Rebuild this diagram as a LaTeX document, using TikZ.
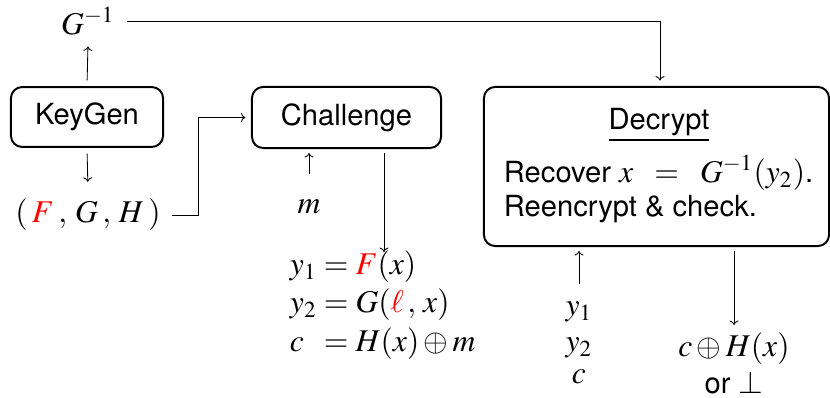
\documentclass[tikz,border=0pt]{standalone}
\usepackage{mathptmx}
\usepackage[no-math]{fontspec}
\setmainfont{TeX Gyre Heros}
\DeclareMathSizes{10.4}{11.3}{8.2}{6.2}
\usetikzlibrary{arrows.meta}
\tikzset{
  box/.style={draw, rounded corners=4pt, line width=0.7pt, align=center, inner sep=0pt},
  flow/.style={-{To[length=1.6pt,width=3.2pt]}, line width=0.3pt},
  lbl/.style={inner sep=3pt}
}
\begin{document}
\begin{tikzpicture}[x=0.357pt, y=-0.357pt, font=\fontsize{10.4}{12.4}\selectfont]
  \useasboundingbox (0,0) rectangle (830,398);

  % the three stages
  \node[box, minimum width=54.3pt, minimum height=21.4pt] (kg) at (87,117) {KeyGen};
  \node[box, minimum width=67.5pt, minimum height=21.8pt] (ch) at (346.5,117.5) {Challenge};
  \node[box, minimum width=123.2pt, minimum height=56.8pt] (dec) at (656.5,166.5) {};
  \node[lbl] (dtitle) at (659,125) {\underline{Decrypt}};
  \node[lbl, anchor=west, align=left] (dtext) at (495,189)
    {Recover $x \;\;=\;\; G^{-1}(y_2)$.\\[-0.3pt] Reencrypt \& check.};

  % keys
  \node[lbl] (ginv) at (88,21) {$G^{-1}$};
  \node[lbl] (fgh) at (88,215) {$(\:{\color{red}F}\:,\:G\:,\:H\:)$};

  % message and ciphertext
  \node[lbl] (m) at (309,207) {$m$};
  \node[lbl, anchor=west] (eqs) at (281,306)
    {$\begin{array}{@{}l@{\;}l@{}}
      y_1 & = {\color{red}F}(x)\\[1.3pt]
      y_2 & = G({\color{red}\ell}\,,\,x)\\[1.3pt]
      c   & = H(x)\oplus m
    \end{array}$};
  \node[lbl, align=center] (ys) at (579,343) {$y_1$\\[0.6pt] $y_2$\\[-1pt] $c$};

  % decryption result
  \node[inner sep=0pt] (out) at (734,349) {$c\oplus H(x)$};
  \node[inner sep=0pt, anchor=base] (fail) at (734,394) {or $\perp$};

  % attachment points on the boxes
  \coordinate (decin) at (660,87);
  \coordinate (chin) at (309,148);
  \coordinate (chout) at (384,148);
  \coordinate (decys) at (579,246);
  \coordinate (decout) at (734,246);
  \coordinate (bend) at (198,215);

  % connectors
  \draw[flow, shorten <=2pt, shorten >=1pt] (kg.north) -- (ginv.south);
  \draw[flow, shorten <=2pt, shorten >=3pt] (kg.south) -- (fgh.north);
  \draw[flow, shorten >=2pt] ([xshift=1pt]fgh.east) -- (bend) |- (ch.west);
  \draw[flow, shorten >=2.3pt] ([xshift=1pt]ginv.east) -| (decin);
  \draw[flow, shorten >=1.8pt, shorten <=6pt] (m.north) -- (chin);
  \draw[flow, shorten <=1.8pt] (chout) -- (384,252);
  \draw[flow, shorten >=1.8pt, shorten <=3pt] (ys.north) -- (decys);
  \draw[flow, shorten <=1.8pt] (decout) -- (734,325);
\end{tikzpicture}
\end{document}
